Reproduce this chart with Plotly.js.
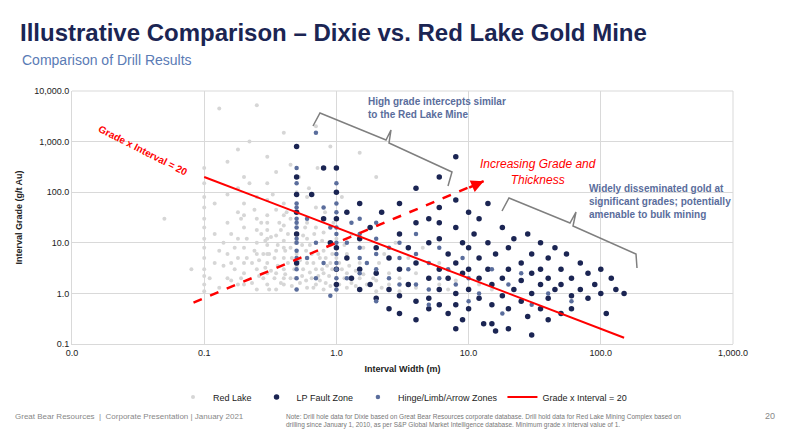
<!DOCTYPE html>
<html><head><meta charset="utf-8">
<script src="https://cdn.plot.ly/plotly-3.0.1.min.js"></script>
<style>body{margin:0}#c{width:788px;height:434px}</style></head>
<body><div id="c"></div><script>
const redLakePts=[[0.05,30],[0.08,3],[0.1,1.5],[0.1,3],[0.1,8],[0.1,20],[0.1,50],[0.1,150],[0.1,300],[0.12,4],[0.12,15],[0.13,4500],[0.15,2],[0.15,6],[0.15,25],[0.15,90],[0.15,400],[0.18,1.5],[0.18,5],[0.18,12],[0.18,40],[0.18,120],[0.18,700],[0.2,2.5],[0.2,8],[0.2,20],[0.2,60],[0.2,200],[0.22,1000],[0.25,1.2],[0.25,3],[0.25,10],[0.25,30],[0.25,80],[0.25,5200],[0.28,2],[0.28,6],[0.3,1.5],[0.3,4],[0.3,9],[0.3,18],[0.3,35],[0.3,70],[0.3,150],[0.3,500],[0.35,1.2],[0.35,2.5],[0.35,7],[0.35,14],[0.35,45],[0.35,250],[0.4,1.5],[0.4,3],[0.4,5],[0.4,11],[0.4,22],[0.4,60],[0.4,1500],[0.45,2],[0.45,8],[0.45,30],[0.5,1.2],[0.5,3.5],[0.5,6],[0.5,15],[0.5,40],[0.5,100],[0.55,2.2],[0.55,9],[0.6,1.3],[0.6,4],[0.6,12],[0.6,25],[0.6,80],[0.65,2],[0.65,6],[0.7,1.5],[0.7,3],[0.7,10],[0.7,20],[0.7,50],[0.75,1.8],[0.75,5],[0.8,1.2],[0.8,2.5],[0.8,7],[0.8,16],[0.85,3.5],[0.9,1.4],[0.9,4],[0.9,9],[1,1.2],[1,2],[1,5],[1,12],[1,30],[1.1,3],[1.2,1.3],[1.2,2.5],[1.2,6],[1.3,1.6],[1.5,1.2],[1.5,2],[1.5,4],[1.7,1.5],[2,1.1],[2,1.8],[2,3],[2.2,1.3],[2.5,1.5],[2.5,2.5],[3,1.1],[3,2],[4,1.3],[4,2.5],[5,1.2],[5,2],[6,1.5],[7,1.2],[8,1.8],[10,1.3],[12,1.5],[15,1.2],[0.11,2],[0.14,10],[0.17,3],[0.19,30],[0.23,4],[0.27,15],[0.32,2.8],[0.37,25],[0.48,3],[0.58,20],[0.12,60],[0.16,1.8],[0.22,150],[0.33,90],[0.42,40],[0.52,200],[0.62,120],[0.72,300],[0.82,40],[0.95,25],[1.1,80],[1.3,15],[1.6,8],[1.8,20],[2.3,6],[2.8,10],[3.5,5],[4.5,8],[6,4],[0.7,2000],[0.9,800],[1.5,600],[2,200],[0.45,350],
[0.1,2.2],[0.1,5],[0.1,12],[0.1,30],[0.1,80],[0.1,1.1],[0.13,1.3],[0.13,7],[0.14,3.5],[0.16,4],[0.16,15],[0.17,8],[0.19,2],[0.21,5],[0.21,12],[0.23,1.6],[0.24,7],[0.24,45],[0.26,2.2],[0.26,4.5],[0.27,25],[0.29,11],[0.29,3.2],[0.31,6],[0.31,1.2],[0.32,13],[0.34,2],[0.34,5],[0.36,3.5],[0.36,9],[0.38,1.6],[0.38,18],[0.41,2.4],[0.41,7],[0.43,4],[0.43,15],[0.46,1.4],[0.46,5],[0.49,2],[0.49,10],[0.53,1.6],[0.53,4.5],[0.56,3],[0.56,14],[0.59,1.8],[0.59,7],[0.63,2.6],[0.63,9],[0.67,1.3],[0.67,4],[0.68,15],[0.73,2.2],[0.73,6],[0.78,3],[0.78,11],[0.83,1.6],[0.83,5],[0.88,2.2],[0.93,3],[0.93,6],[1.05,1.5],[1.05,4],[1.15,2],[1.15,9],[1.25,3.5],[1.4,2.8],[1.4,1.4],[1.6,2.4],[1.9,2],[2.1,4],[0.2,4],[0.2,1.5],[0.2,35],[0.25,6],[0.25,18],[0.3,2.5],[0.3,6],[0.3,12],[0.3,25],[0.4,8],[0.4,2],[0.4,35]];
const lpFaultPts=[[0.5,800],[0.5,200],[0.5,90],[0.5,40],[0.5,15],[0.5,4],[0.65,90],[0.8,300],[0.8,30],[0.9,10],[1,300],[1,100],[1,30],[1,8],[1,3],[1,1.5],[1.2,40],[1.2,5],[1.3,2],[1.5,60],[1.5,12],[1.5,3],[1.5,1.2],[1.8,20],[1.8,1.5],[2,8],[2,2.5],[2,0.8],[2.2,40],[2.5,5],[2.5,1.2],[2.5,0.5],[3,60],[3,15],[3,3],[3,0.9],[3.5,1.5],[3.5,8],[4,120],[4,25],[4,4],[4,0.7],[4,0.3],[5,30],[5,10],[5,2],[5,0.8],[5,0.5],[6,200],[6,50],[6,12],[6,3],[6,1.2],[6,0.6],[7,6],[7,2],[7,0.4],[8,500],[8,70],[8,20],[8,4],[8,1],[8,0.6],[9,10],[9,2.5],[9,0.3],[10,40],[10,8],[10,3],[10,1.2],[10,0.5],[11,15],[12,30],[12,5],[12,2],[12,0.8],[13,0.25],[14,60],[14,10],[14,3],[15,1.5],[15,0.6],[16,6],[18,20],[18,2],[18,0.9],[20,8],[20,3],[20,0.5],[22,12],[22,1.2],[25,4],[25,1.8],[25,0.7],[28,15],[28,0.35],[30,6],[30,2.5],[30,1],[35,10],[35,3],[35,1.5],[35,0.5],[40,5],[40,2],[40,0.8],[45,8],[45,1.2],[50,3],[50,1.5],[50,0.4],[55,6],[60,2],[60,0.9],[70,4],[70,1.2],[80,2.5],[80,0.8],[90,1.5],[100,3],[100,1],[120,2],[130,1.2],[150,1],[40,0.3],[20,0.2],[16,0.18],[30,0.15],[110,0.4],[8,0.2],[3,0.4],[6,25],[15,0.25],[60,0.5]];
const hingePts=[[0.5,1.2],[0.5,2],[0.5,3],[0.5,5],[0.5,7],[0.5,10],[0.5,12],[0.5,20],[0.5,25],[0.5,30],[0.5,50],[0.5,60],[0.5,150],[0.5,300],[0.7,1500],[0.6,30],[0.6,5],[0.7,10],[0.7,2],[0.8,4],[0.8,50],[0.9,20],[1,1.2],[1,2],[1,3],[1,4],[1,6],[1,10],[1,15],[1,20],[1,40],[1,60],[1,150],[1.2,10],[1.2,2],[1.3,25],[1.5,5],[1.5,8],[1.5,15],[1.5,30],[1.5,2.5],[1.7,4],[2,6],[2,12],[2,3],[2,25],[2.5,8],[2.5,2],[3,5],[3,1.5],[3,10],[3.5,3],[4,6],[4,1.5],[4,15],[5,4],[5,1.2],[6,2],[6,8],[7,3],[8,1.5],[9,5],[10,2],[12,1],[15,3],[20,1.5],[25,2.5],[30,0.6],[40,1],[18,0.4],[10,0.7],[5,0.6],[60,0.7],[0.9,0.9],[2,0.7]];
const gxiLineX=[0.1,150], gxiLineY=[200,0.133];
const arrowX=[0.083,13], arrowY=[0.66,165];
const xTickVals=[0.01,0.1,1,10,100,1000], xTickText=["0.0","0.1","1.0","10.0","100.0","1,000.0"];
const yTickVals=[0.1,1,10,100,1000,10000], yTickText=["0.1","1.0","10.0","100.0","1,000.0","10,000.0"];

const F="Liberation Sans Narrow, Arial Narrow, Liberation Sans, sans-serif";
const sc=(pts,name,color,size)=>({type:'scatter',mode:'markers',name,x:pts.map(p=>p[0]),y:pts.map(p=>p[1]),marker:{color,size}});
const traces=[
 sc(redLakePts,'Red Lake','#d6d6d6',4),
 sc(lpFaultPts,'LP Fault Zone','#1b2553',5.5),
 sc(hingePts,'Hinge/Limb/Arrow Zones','#5a6d9c',4.5),
 {type:'scatter',mode:'lines',name:'Grade x Interval = 20',x:gxiLineX,y:gxiLineY,line:{color:'#ff0000',width:2}},
 {type:'scatter',mode:'lines',showlegend:false,x:arrowX,y:arrowY,line:{color:'#ff0000',width:2.5,dash:'dash'}}
];
const px=v=>(v-72)/661, py=v=>(344-v)/253;
const P=(pts)=>'M'+pts.map(p=>px(p[0])+','+py(p[1])).join(' L');
const layout={width:788,height:434,margin:{l:72,r:55,t:91,b:90},paper_bgcolor:'#fff',plot_bgcolor:'#fff',
 font:{family:F,size:9,color:'#222'},
 xaxis:{type:'log',range:[-2,3],tickvals:xTickVals,ticktext:xTickText,gridcolor:'#d9d9d9',zeroline:false,showline:true,linecolor:'#d9d9d9',ticks:'',
  title:{text:'<b>Interval Width (m)</b>',font:{size:9,family:F},standoff:8}},
 yaxis:{type:'log',range:[-1,4],tickvals:yTickVals,ticktext:yTickText,gridcolor:'#d9d9d9',zeroline:false,showline:true,linecolor:'#d9d9d9',ticks:'',
  title:{text:'<b>Interval Grade (g/t Au)</b>',font:{size:9,family:F},standoff:10}},
 showlegend:true,
 legend:{orientation:'h',x:0.5,xanchor:'center',y:py(397),yanchor:'middle',font:{size:9,family:F}},
 shapes:[
  {type:'path',xref:'paper',yref:'paper',path:P([[313,126],[320,113],[386,140],[391,130],[389,143],[452,172],[448,186]]),line:{color:'#7f7f7f',width:1.5}},
  {type:'path',xref:'paper',yref:'paper',path:P([[502,211],[509,198],[570,223],[576,212],[573,226],[636,254],[637,268]]),line:{color:'#7f7f7f',width:1.5}},
  {type:'line',xref:'paper',yref:'paper',x0:0,x1:1,y0:1,y1:1,line:{color:'#d9d9d9',width:1}},
  {type:'line',xref:'paper',yref:'paper',x0:1,x1:1,y0:0,y1:1,line:{color:'#d9d9d9',width:1}}
 ],
 annotations:[
  {xref:'paper',yref:'paper',x:Math.log10(13)/5+0.4,y:(Math.log10(165)+1)/5,ax:-16,ay:7,text:'',showarrow:true,arrowhead:2,arrowsize:1,arrowwidth:2.5,arrowcolor:'#ff0000'},
  {xref:'paper',yref:'paper',x:px(94),y:py(120),xanchor:'left',yanchor:'top',text:'<b>Grade x Interval = 20</b>',textangle:27,showarrow:false,font:{color:'#ff0000',size:10,family:F}},
  {xref:'paper',yref:'paper',x:px(366),y:py(94),xanchor:'left',yanchor:'top',align:'left',text:'<b>High grade intercepts similar<br>to the Red Lake Mine</b>',showarrow:false,font:{color:'#5a6d9c',size:10,family:F}},
  {xref:'paper',yref:'paper',x:px(538),y:py(155),xanchor:'center',yanchor:'top',align:'center',text:'<i>Increasing Grade and<br>Thickness</i>',showarrow:false,font:{color:'#ff0000',size:12,family:F}},
  {xref:'paper',yref:'paper',x:px(587),y:py(181),xanchor:'left',yanchor:'top',align:'left',text:'<b>Widely disseminated gold at<br>significant grades; potentially<br>amenable to bulk mining</b>',showarrow:false,font:{color:'#5a6d9c',size:10,family:F}},
  {xref:'paper',yref:'paper',x:px(18),y:py(32),xanchor:'left',yanchor:'middle',text:'<b>Illustrative Comparison – Dixie vs. Red Lake Gold Mine</b>',showarrow:false,font:{color:'#1b2553',size:24,family:F}},
  {xref:'paper',yref:'paper',x:px(20),y:py(60),xanchor:'left',yanchor:'middle',text:'Comparison of Drill Results',showarrow:false,font:{color:'#5a7bb5',size:14,family:'Liberation Sans, Arial, sans-serif'}},
  {xref:'paper',yref:'paper',x:px(13),y:py(416),xanchor:'left',yanchor:'middle',text:'Great Bear Resources  |  Corporate Presentation | January 2021',showarrow:false,font:{color:'#888',size:8,family:F}},
  {xref:'paper',yref:'paper',x:px(284),y:py(421),xanchor:'left',yanchor:'middle',align:'left',text:'Note: Drill hole data for Dixie based on Great Bear Resources corporate database. Drill hold data for Red Lake Mining Complex based on<br>drilling since January 1, 2010, as per S&P Global Market Intelligence database. Minimum grade x interval value of 1.',showarrow:false,font:{color:'#777',size:6.5,family:F}},
  {xref:'paper',yref:'paper',x:px(763),y:py(416),xanchor:'left',yanchor:'middle',text:'20',showarrow:false,font:{color:'#888',size:9,family:F}}
 ]};
Plotly.newPlot('c',traces,layout,{displayModeBar:false,staticPlot:true});
</script></body></html>
